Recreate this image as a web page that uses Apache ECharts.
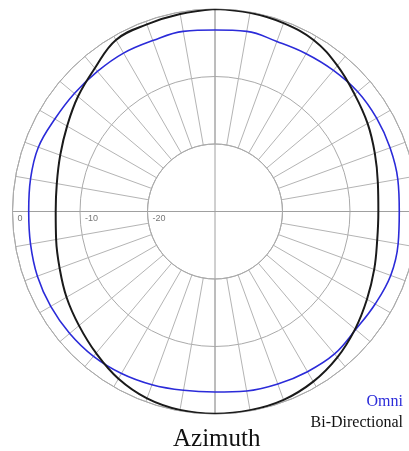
<!DOCTYPE html>
<html>
<head>
<meta charset="utf-8">
<script src="https://cdn.jsdelivr.net/npm/echarts@6/dist/echarts.min.js"></script>
<style>
  html, body { margin: 0; padding: 0; background: #fff; }
  #chart { width: 409px; height: 451px; }
</style>
</head>
<body>
<div id="chart"></div>
<script>
// bearing in degrees, clockwise from the top
var bearings = [0, 10, 20, 30, 40, 50, 60, 70, 80, 90, 100, 110, 120, 130, 140, 150, 160, 170,
  180, 190, 200, 210, 220, 230, 240, 250, 260, 270, 280, 290, 300, 310, 320, 330, 340, 350];
// gain in dB
var omni = [-3.1, -2.9, -3.2, -3.0, -2.7, -2.4, -2.35, -2.4, -2.5, -2.7, -2.45, -2.3, -2.6, -2.8,
  -2.45, -2.6, -2.8, -3.0, -3.25, -3.1, -2.7, -2.3, -2.0, -1.9, -1.9, -2.0, -2.25, -2.4, -2.25,
  -2.15, -2.6, -2.8, -2.9, -2.9, -3.05, -2.9];
var biDirectional = [0, -0.1, -0.3, -0.7, -1.8, -3.0, -3.9, -4.8, -5.5, -5.8, -5.6, -4.9, -4.0,
  -2.9, -1.8, -0.9, -0.3, -0.1, -0.05, -0.15, -0.55, -1.4, -2.6, -3.7, -4.6, -5.5, -6.1, -6.4,
  -6.2, -5.6, -4.7, -3.5, -2.3, -0.65, -0.5, -0.3];
var radiusTicks = [-20, -10, 0];
var seriesNames = ['Omni', 'Bi-Directional'];
var seriesColors = ['#2b2bd9', '#1a1a1a'];

var chart = echarts.init(document.getElementById('chart'));

// angle axis runs from -90 (left, where the dB axis sits) clockwise to 270
function toAxis(b) {
  return b > 270 ? b - 360 : b;
}
function buildData(values) {
  var d = values.map(function (v, i) { return [v, toAxis(bearings[i])]; });
  d.push(d[0]);
  return d;
}

var center = [215, 211.5];

var option = {
  animation: false,
  backgroundColor: '#fff',
  title: {
    text: 'Azimuth',
    left: 168,
    top: 422,
    textStyle: { fontFamily: 'Liberation Serif', fontSize: 25, fontWeight: 'normal', color: '#111' }
  },
  legend: {
    orient: 'vertical',
    right: 1,
    top: 394,
    padding: 0,
    align: 'right',
    icon: 'none',
    itemWidth: 0,
    itemHeight: 0,
    itemGap: 5,
    textStyle: { fontFamily: 'Liberation Serif', fontSize: 16 },
    data: [
      { name: seriesNames[0], textStyle: { color: seriesColors[0] } },
      { name: seriesNames[1], textStyle: { color: '#111' } }
    ]
  },
  polar: [
    { center: center, radius: [67.5, 202.5] },
    { center: center, radius: [0, 202.5] }
  ],
  angleAxis: [
    {
      polarIndex: 0,
      type: 'value',
      min: -90,
      max: 270,
      interval: 10,
      startAngle: 180,
      clockwise: true,
      axisLine: { lineStyle: { color: '#aaa', width: 1 } },
      axisTick: { show: false },
      axisLabel: { show: false },
      splitLine: { lineStyle: { color: '#b4b4b4', width: 1 } }
    },
    {
      polarIndex: 1,
      type: 'value',
      min: 0,
      max: 360,
      interval: 90,
      startAngle: 90,
      axisLine: { show: false },
      axisTick: { show: false },
      axisLabel: { show: false },
      splitLine: { lineStyle: { color: '#a0a0a0', width: 1 } }
    }
  ],
  radiusAxis: [
    {
      polarIndex: 0,
      type: 'value',
      min: radiusTicks[0],
      max: radiusTicks[radiusTicks.length - 1],
      interval: radiusTicks[1] - radiusTicks[0],
      axisLine: { show: false },
      axisTick: { show: false },
      axisLabel: {
        color: '#777',
        fontSize: 9,
        fontFamily: 'Liberation Sans',
        align: 'left',
        verticalAlign: 'top',
        margin: 3,
        padding: [0, 0, 0, 5]
      },
      splitLine: { lineStyle: { color: '#aaa', width: 1 } }
    },
    {
      polarIndex: 1,
      type: 'value',
      min: 0,
      max: 1,
      axisLine: { show: false },
      axisTick: { show: false },
      axisLabel: { show: false },
      splitLine: { show: false }
    }
  ],
  series: [
    {
      name: seriesNames[0],
      type: 'line',
      coordinateSystem: 'polar',
      polarIndex: 0,
      data: buildData(omni),
      showSymbol: false,
      smooth: 0.4,
      clip: false,
      lineStyle: { color: seriesColors[0], width: 1.6 },
      itemStyle: { color: seriesColors[0] }
    },
    {
      name: seriesNames[1],
      type: 'line',
      coordinateSystem: 'polar',
      polarIndex: 0,
      data: buildData(biDirectional),
      showSymbol: false,
      smooth: 0.4,
      clip: false,
      lineStyle: { color: seriesColors[1], width: 2 },
      itemStyle: { color: seriesColors[1] }
    }
  ]
};

chart.setOption(option);
</script>
</body>
</html>
